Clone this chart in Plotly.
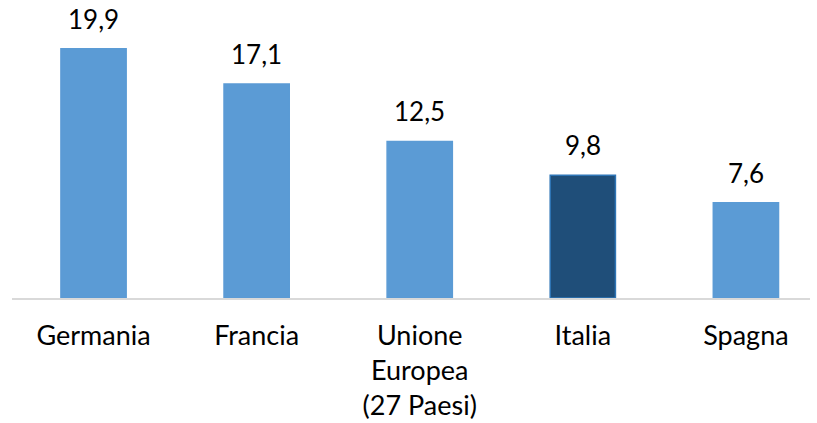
import plotly.graph_objects as go

categories = ["Germania", "Francia", "Unione<br>Europea<br>(27 Paesi)", "Italia", "Spagna"]
values = [19.9, 17.1, 12.5, 9.8, 7.6]
labels = ["19,9", "17,1", "12,5", "9,8", "7,6"]
highlight = "Italia"

light = "#5b9bd5"
dark = "#1f4e79"
colors = [dark if c == highlight else light for c in categories]
line_colors = ["#2e75b6" if c == highlight else light for c in categories]

FONT = "Lato"

fig = go.Figure()
fig.add_trace(go.Bar(
    x=list(range(len(categories))),
    y=values,
    width=0.4,
    marker=dict(color=colors, line=dict(color=line_colors, width=1.5)),
    hoverinfo="skip",
))

for i, (v, t) in enumerate(zip(values, labels)):
    fig.add_annotation(x=i, y=v, text=t, showarrow=False, yanchor="bottom",
                       yshift=13, borderpad=0,
                       font=dict(family=FONT, size=26, color="#000000"))

fig.update_layout(
    width=817, height=423,
    margin=dict(l=12, r=7, t=10, b=125),
    paper_bgcolor="white", plot_bgcolor="white",
    showlegend=False,
    font=dict(family=FONT, size=26, color="#000000"),
    xaxis=dict(
        tickmode="array", tickvals=list(range(len(categories))), ticktext=categories,
        range=[-0.5, 4.393], showline=True, linecolor="#d9d9d9", linewidth=1.5,
        showgrid=False, zeroline=False, ticks="", tickangle=0, automargin=False,
        ticklabelstandoff=13,
        tickfont=dict(family=FONT, size=27, color="#000000"),
    ),
    yaxis=dict(range=[0, 23.0], visible=False, showgrid=False, zeroline=False,
               automargin=False),
)

fig.write_html("out.html", config={"displayModeBar": False},
               post_script="document.body.style.margin='0';document.body.style.overflow='hidden';")
